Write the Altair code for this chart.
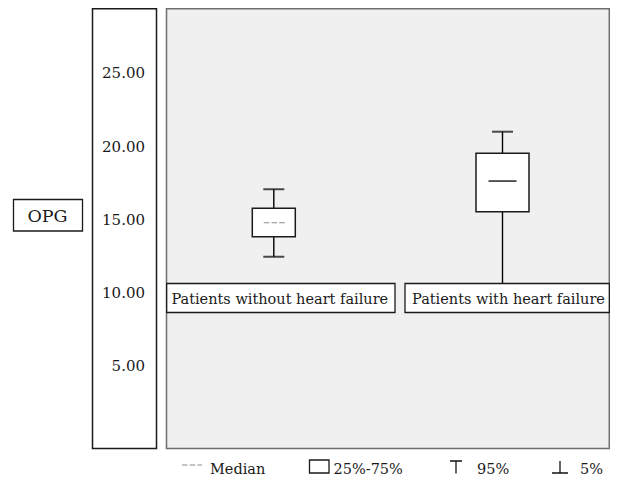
import altair as alt
import pandas as pd

# ---- data ----
groups = ["Patients without heart failure", "Patients with heart failure"]
p5 = [12.43, 9.2]
q1 = [13.80, 15.51]
median = [14.75, 17.60]
q3 = [15.74, 19.49]
p95 = [17.04, 20.97]
tick_values = [5, 10, 15, 20, 25]
y_title = "OPG"
legend_median = "Median"
legend_box = "25%-75%"
legend_upper = "95%"
legend_lower = "5%"

FONT = "DejaVu Serif"
TXT = "#1a1a1a"

box_df = pd.DataFrame({"group": groups, "p5": p5, "q1": q1, "median": median,
                       "q3": q3, "p95": p95})
tick_df = pd.DataFrame({"v": tick_values})
one = pd.DataFrame({"a": [0]})

yscale = alt.Scale(domain=[-3.504, 29.42], nice=False, zero=False, range=[482, 0])
xscale = alt.Scale(type="point", range=[265.8, 494.5], padding=0, domain=groups)
X = alt.X("group:N", scale=xscale, axis=None)
is_first = alt.datum.group == groups[0]


def fixed_rect(x, x2, y, y2, fill, stroke, sw=1.3):
    return alt.Chart(one).mark_rect(fill=fill, stroke=stroke, strokeWidth=sw).encode(
        x=alt.value(x), x2=alt.value(x2), y=alt.value(y), y2=alt.value(y2))


def fixed_rule(x, x2, y, y2, color="black", sw=1.3, dash=None):
    kw = dict(color=color, strokeWidth=sw)
    if dash:
        kw["strokeDash"] = dash
    return alt.Chart(one).mark_rule(**kw).encode(
        x=alt.value(x), x2=alt.value(x2), y=alt.value(y), y2=alt.value(y2))


def fixed_text(txt, x, y, size, align="left", color=TXT):
    return alt.Chart(one).mark_text(text=txt, font=FONT, fontSize=size, align=align,
                                    baseline="alphabetic", color=color).encode(
        x=alt.value(x), y=alt.value(y))


panel = fixed_rect(158.5, 601.3, 0.7, 440.5, "#f0f0f0", "#6e6e6e", 1.5)
axis_box = fixed_rect(84.5, 148.5, 0.7, 440.5, "white", "#1a1a1a", 1.5)

base = alt.Chart(box_df)
whisk_lo = base.mark_rule(color="black", strokeWidth=1.4).encode(
    x=X, y=alt.Y("p5:Q", scale=yscale, axis=None), y2="q1:Q")
whisk_hi = base.mark_rule(color="black", strokeWidth=1.4).encode(
    x=X, y=alt.Y("q3:Q", scale=yscale, axis=None), y2="p95:Q")
cap_hi = base.mark_tick(color="black", size=21, thickness=2, orient="horizontal").encode(
    x=X, y=alt.Y("p95:Q", scale=yscale, axis=None))
cap_lo = base.mark_tick(color="black", size=21, thickness=2, orient="horizontal").encode(
    x=X, y=alt.Y("p5:Q", scale=yscale, axis=None))
boxes = base.mark_bar(fill="white", stroke="#1a1a1a", strokeWidth=1.5).encode(
    x=X, y=alt.Y("q1:Q", scale=yscale, axis=None), y2="q3:Q",
    size=alt.condition(is_first, alt.value(43), alt.value(53)))
med1 = base.transform_filter(is_first).mark_rule(
    color="#8a8a8a", strokeWidth=1.2, strokeDash=[5.5, 2.2], xOffset=-10, x2Offset=11).encode(
    x=X, x2="group:N", y=alt.Y("median:Q", scale=yscale, axis=None))
med2 = base.transform_filter(~is_first).mark_rule(
    color="black", strokeWidth=1.3, xOffset=-14, x2Offset=14).encode(
    x=X, x2="group:N", y=alt.Y("median:Q", scale=yscale, axis=None))

lab_box1 = fixed_rect(158.7, 387, 275.5, 304.5, "white", "#1a1a1a", 1.3)
lab_box2 = fixed_rect(397, 601.3, 275.5, 304.5, "white", "#1a1a1a", 1.3)
lab_text = base.mark_text(font=FONT, fontSize=14.5, color=TXT, baseline="alphabetic",
                          dx=6).encode(x=X, y=alt.value(296), text="group:N")

tick_text = alt.Chart(tick_df).mark_text(font=FONT, fontSize=15, color=TXT, align="right",
                                         baseline="alphabetic", dy=5.6).encode(
    x=alt.value(137), y=alt.Y("v:Q", scale=yscale, axis=None),
    text=alt.Text("v:Q", format=".2f"))

opg_box = fixed_rect(5.5, 74.5, 191.5, 223, "white", "#1a1a1a", 1.3)
opg_text = fixed_text(y_title, 39.5, 213.5, 17.5, align="center")

# legend (raised a little so it stays inside the page)
leg = [
    fixed_rule(174, 194, 457, 457, color="#8a8a8a", sw=1.2, dash=[5.5, 2.2]),
    fixed_text(legend_median, 202, 465.5, 14.5),
    fixed_rect(301.5, 321, 452, 465, "white", "#1a1a1a", 1.3),
    fixed_text(legend_box, 325.5, 465.5, 14.5),
    fixed_rule(442, 454, 453, 453, sw=1.4),
    fixed_rule(448, 448, 453, 465.5, sw=1.2),
    fixed_text(legend_upper, 469, 465.5, 14.5),
    fixed_rule(544, 560, 465, 465, sw=1.4),
    fixed_rule(552, 552, 453, 465, sw=1.2),
    fixed_text(legend_lower, 572, 465.5, 14.5),
]

chart = alt.layer(
    panel, axis_box, whisk_lo, whisk_hi, cap_hi, cap_lo, boxes, med1, med2,
    lab_box1, lab_box2, lab_text, tick_text, opg_box, opg_text, *leg
).properties(
    width=602, height=470,
    autosize=alt.AutoSizeParams(type="none"),
    padding=0,
    background="white",
).configure_view(stroke=None)

chart.save("out.html", embed_options={"renderer": "svg", "actions": False})
